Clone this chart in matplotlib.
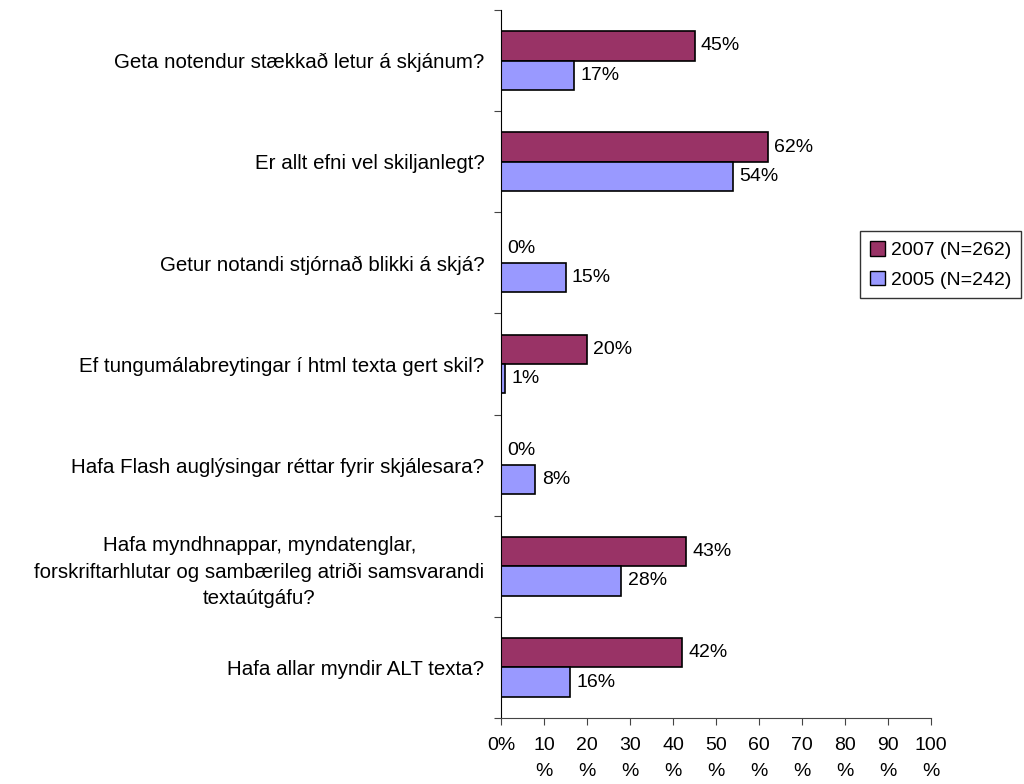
import matplotlib
matplotlib.use("Agg")
import matplotlib.pyplot as plt
from matplotlib.patches import Patch

plt.rcParams['font.family'] = ['Liberation Sans', 'DejaVu Sans']

categories = [
    "Geta notendur stækkað letur á skjánum?",
    "Er allt efni vel skiljanlegt?",
    "Getur notandi stjórnað blikki á skjá?",
    "Ef tungumálabreytingar í html texta gert skil?",
    "Hafa Flash auglýsingar réttar fyrir skjálesara?",
    "Hafa myndhnappar, myndatenglar,\nforskriftarhlutar og sambærileg atriði samsvarandi\ntextaútgáfu?",
    "Hafa allar myndir ALT texta?",
]
values_2007 = [45, 62, 0, 20, 0, 43, 42]
values_2005 = [17, 54, 15, 1, 8, 28, 16]
series_names = ["2007 (N=262)", "2005 (N=242)"]
xtick_values = list(range(0, 101, 10))
xtick_labels = ["0%"] + [f"{v}\n%" for v in xtick_values[1:]]

c2007 = "#993366"
c2005 = "#9999FF"
FS = 14

fig = plt.figure(figsize=(10.24, 7.84), dpi=100)
ax = fig.add_axes([501/1024, 1 - 718/784, 430/1024, 708/784])

n = len(categories)
ypos = [n - 1 - i for i in range(n)]
h = 0.29
y07 = [y + h/2 for y in ypos]
y05 = [y - h/2 for y in ypos]
ax.barh(y07, values_2007, height=h, color=c2007, edgecolor="black", linewidth=1.2)
ax.barh(y05, values_2005, height=h, color=c2005, edgecolor="black", linewidth=1.2)

for y, v in zip(y07, values_2007):
    ax.text(v + 1.5, y, f"{v}%", va="center", ha="left", fontsize=FS)
for y, v in zip(y05, values_2005):
    ax.text(v + 1.5, y, f"{v}%", va="center", ha="left", fontsize=FS)

ax.set_xlim(0, 100)
ax.set_ylim(-0.5, n - 0.5)
ax.set_xticks(xtick_values)
ax.set_xticklabels(xtick_labels, fontsize=FS, linespacing=1.65)
ax.tick_params(axis="x", direction="out", length=5, pad=9, color="#444444")

ax.set_yticks([i - 0.5 for i in range(n + 1)])
ax.set_yticklabels([])
ax.tick_params(axis="y", which="major", direction="out", length=5, color="#444444")
ax.set_yticks(ypos, minor=True)
ax.set_yticklabels(categories, minor=True, fontsize=14.8, multialignment="center", linespacing=1.5)
ax.tick_params(axis="y", which="minor", length=0, pad=12)

for s in ["top", "right"]:
    ax.spines[s].set_visible(False)
ax.spines["left"].set_color("black")
ax.spines["bottom"].set_color("#444444")

handles = [Patch(facecolor=c2007, edgecolor="black"), Patch(facecolor=c2005, edgecolor="black")]
leg = fig.legend(handles, series_names, loc="upper left", bbox_to_anchor=(860/1024, 1 - 231/784),
                 frameon=True, fancybox=False, fontsize=FS, handlelength=0.8, handleheight=0.8,
                 handletextpad=0.3, borderpad=0.5, labelspacing=0.6, borderaxespad=0)
leg.get_frame().set_edgecolor("black")
leg.get_frame().set_linewidth(1.0)

fig.savefig("out.png", dpi=100)
